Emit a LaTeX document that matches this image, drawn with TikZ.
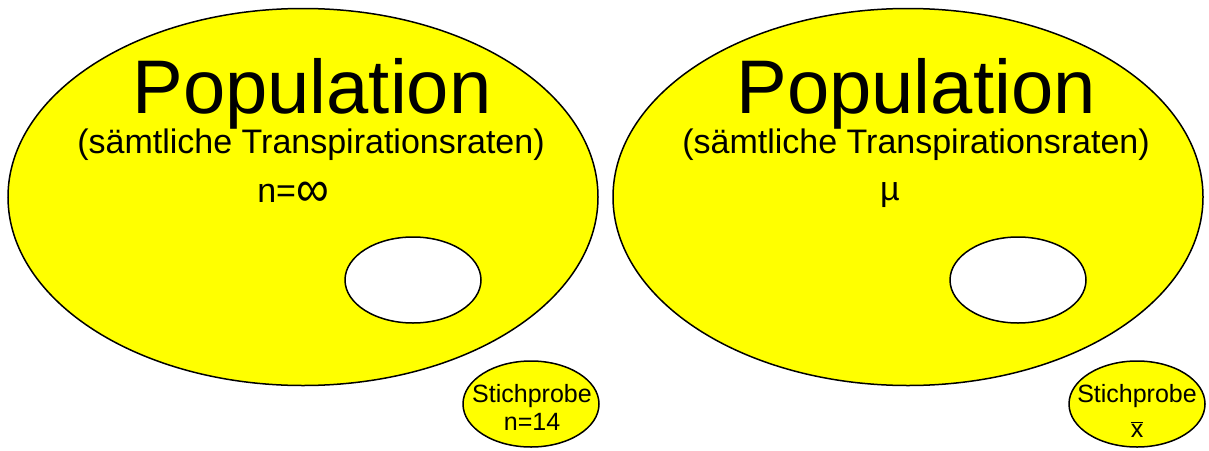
\documentclass[tikz,border=0pt]{standalone}
\usepackage{fontspec}
\usepackage{graphicx}
\setmainfont{Liberation Sans}
\usetikzlibrary{shapes.geometric}
\definecolor{popyellow}{RGB}{255,255,0}
\begin{document}
\begin{tikzpicture}[x=1pt,y=-1pt,
  ell/.style={ellipse, draw=black, line width=1.5pt, inner sep=0pt, outer sep=0pt},
  big/.style={ell, fill=popyellow, minimum width=590pt, minimum height=377pt},
  hole/.style={ell, fill=white, minimum width=136pt, minimum height=86pt},
  sample/.style={ell, fill=popyellow, minimum width=136pt, minimum height=86pt},
  title/.style={anchor=base, inner sep=0pt, font=\fontsize{76}{80}\selectfont},
  sub/.style={anchor=base, inner sep=0pt, font=\fontsize{34}{38}\selectfont},
  small/.style={anchor=base, inner sep=0pt, font=\fontsize{25}{28}\selectfont}]
\useasboundingbox (0,0) rectangle (1209,450);
% left
\node[big] (popA) at (303,197) {};
\node[hole] (holeA) at (413,280) {};
\node[sample] (sampA) at (531,404) {};
\node[title] (titleA) at (312,113) {Population};
\node[sub] (subA) at (311,153) {(sämtliche Transpirationsraten)};
\node[sub] (nA) at (293,202) {n=\raisebox{-4.5pt}{\scalebox{1.35}[1.5]{∞}}};
\node[small] (stA) at (532,402) {Stichprobe};
\node[small] (nsA) at (532,430) {n=14};
% right
\node[big] (popB) at (908,197) {};
\node[hole] (holeB) at (1018,280) {};
\node[sample] (sampB) at (1137,404) {};
\node[title] (titleB) at (916,113) {Population};
\node[sub] (subB) at (916,153) {(sämtliche Transpirationsraten)};
\node[sub] (muB) at (890,200) {µ};
\node[small] (stB) at (1137,402) {Stichprobe};
\node[small] (xB) at (1137,437) {$\overline{\hbox{x}}$};
\end{tikzpicture}
\end{document}
